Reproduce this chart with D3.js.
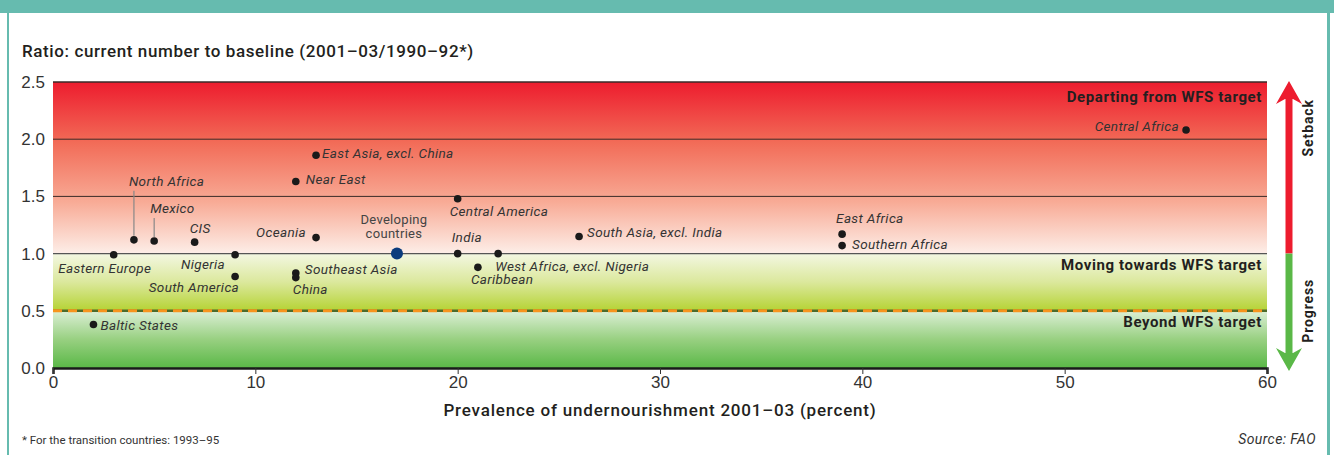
<!DOCTYPE html>
<html>
<head>
<meta charset="utf-8">
<script src="https://cdn.jsdelivr.net/npm/d3@7"></script>
<style>
  body { margin: 0; background: #fff; }
  svg { display: block; font-family: Roboto, "Noto Sans", sans-serif; }
</style>
</head>
<body>
<div id="chart"></div>
<script>
// Regions, prevalence (x) and ratio (y)
const regions = ['Eastern Europe', 'North Africa', 'Mexico', 'CIS', 'Nigeria', 'South America',
  'Oceania', 'Southeast Asia', 'China', 'Near East', 'East Asia, excl. China', 'Central America',
  'India', 'Caribbean', 'West Africa, excl. Nigeria', 'South Asia, excl. India', 'East Africa',
  'Southern Africa', 'Central Africa', 'Baltic States'];
const prevalence = [3, 4, 5, 7, 9, 9, 13, 12, 12, 12, 13, 20, 20, 21, 22, 26, 39, 39, 56, 2];
const ratio = [0.99, 1.12, 1.11, 1.10, 0.99, 0.80, 1.14, 0.83, 0.79, 1.63, 1.86, 1.48,
  1.0, 0.88, 1.0, 1.15, 1.17, 1.07, 2.08, 0.38];

const developing = { name: ['Developing', 'countries'], x: 17, y: 1.0 };

const xTicks = [0, 10, 20, 30, 40, 50, 60];
const yTicks = [0, 0.5, 1.0, 1.5, 2.0, 2.5];

const zones = ['Departing from WFS target', 'Moving towards WFS target', 'Beyond WFS target'];

// label placement: [dx, dy, anchor, leader]
const labelPos = {
  'Eastern Europe': [-9, 18, 'middle'],
  'North Africa': [-5, -54, 'start', true],
  'Mexico': [-4, -28, 'start', true],
  'CIS': [-5, -9, 'start'],
  'Nigeria': [-10, 14, 'end'],
  'South America': [4, 16, 'end'],
  'Oceania': [-10, -1, 'end'],
  'Southeast Asia': [9, 1, 'start'],
  'China': [-3, 16, 'start'],
  'Near East': [10, 2, 'start'],
  'East Asia, excl. China': [6, 3, 'start'],
  'Central America': [-8, 17, 'start'],
  'India': [-6, -12, 'start'],
  'Caribbean': [-7, 17, 'start'],
  'West Africa, excl. Nigeria': [-3, 17, 'start'],
  'South Asia, excl. India': [8, 1, 'start'],
  'East Africa': [-6, -11, 'start'],
  'Southern Africa': [10, 3, 'start'],
  'Central Africa': [-7, 1, 'end'],
  'Baltic States': [7, 5, 'start']
};

const W = 1334, H = 455;
const margin = { top: 82, right: 67, bottom: 87, left: 53 };
const width = W - margin.left - margin.right;
const height = H - margin.top - margin.bottom;

const svg = d3.select('#chart').append('svg')
  .attr('width', W).attr('height', H);

// frame
svg.append('rect').attr('x', 0).attr('y', 0).attr('width', W).attr('height', 13).attr('fill', '#66bbaf');
svg.append('rect').attr('x', 7).attr('y', 0).attr('width', 2).attr('height', H).attr('fill', '#66bbaf');
svg.append('rect').attr('x', 1327).attr('y', 0).attr('width', 3).attr('height', H).attr('fill', '#66bbaf');

const x = d3.scaleLinear().domain([0, 60]).range([0, width]);
const y = d3.scaleLinear().domain([0, 2.5]).range([height, 0]);

const defs = svg.append('defs');
function grad(id, stops) {
  const g = defs.append('linearGradient').attr('id', id)
    .attr('x1', 0).attr('y1', 0).attr('x2', 0).attr('y2', 1);
  stops.forEach(s => g.append('stop').attr('offset', s[0]).attr('stop-color', s[1]));
}
grad('gRed', [[0, '#ed1c2e'], [0.35, '#f26b57'], [0.7, '#f8ab96'], [1, '#fdeee8']]);
grad('gYel', [[0, '#f3f7e2'], [0.5, '#dbe89c'], [1, '#b5d334']]);
grad('gGrn', [[0, '#dcefd6'], [0.5, '#98d081'], [1, '#5ab847']]);

const g = svg.append('g').attr('transform', `translate(${margin.left},${margin.top})`);

g.append('rect').attr('x', 0).attr('y', y(2.5)).attr('width', width)
  .attr('height', y(1) - y(2.5)).attr('fill', 'url(#gRed)');
g.append('rect').attr('x', 0).attr('y', y(1)).attr('width', width)
  .attr('height', y(0.5) - y(1)).attr('fill', 'url(#gYel)');
g.append('rect').attr('x', 0).attr('y', y(0.5)).attr('width', width)
  .attr('height', y(0) - y(0.5)).attr('fill', 'url(#gGrn)');

// grid lines
[2.5, 2.0, 1.5].forEach(v => {
  g.append('line').attr('x1', 0).attr('x2', width).attr('y1', y(v)).attr('y2', y(v))
    .attr('stroke', '#3a2a28').attr('stroke-width', v === 2.5 ? 1.5 : 1);
});
g.append('line').attr('x1', 0).attr('x2', width).attr('y1', y(1)).attr('y2', y(1))
  .attr('stroke', '#555').attr('stroke-width', 1.3);
g.append('line').attr('x1', 0).attr('x2', width).attr('y1', y(0.5)).attr('y2', y(0.5))
  .attr('stroke', '#4d6b2a').attr('stroke-width', 2.5);
g.append('line').attr('x1', 0).attr('x2', width).attr('y1', y(0.5)).attr('y2', y(0.5))
  .attr('stroke', '#f7941d').attr('stroke-width', 3).attr('stroke-dasharray', '9,6');

// axes
const xAxis = g.append('g').attr('transform', `translate(0,${height})`)
  .call(d3.axisBottom(x).tickValues(xTicks).tickSize(6).tickPadding(2).tickFormat(d3.format('d')));
xAxis.select('.domain').attr('stroke', '#1a1a1a').attr('stroke-width', 2.5);
xAxis.selectAll('.tick line').attr('stroke', '#333');
xAxis.selectAll('text').attr('fill', '#333').style('font-size', '17px').style('font-weight', 300);

const yAxis = g.append('g')
  .call(d3.axisLeft(y).tickValues(yTicks).tickSize(0).tickPadding(8).tickFormat(d3.format('.1f')));
yAxis.select('.domain').remove();
yAxis.selectAll('text').attr('fill', '#333').style('font-size', '17px').style('font-weight', 300);

// zone labels
const zoneY = [2.37, 0.9, 0.4];
zones.forEach((z, i) => {
  g.append('text').attr('x', width - 5).attr('y', y(zoneY[i]) + 5)
    .attr('text-anchor', 'end').attr('fill', '#231f20')
    .style('font-size', '15px').style('font-weight', 700).style('letter-spacing', '0.6px').text(z);
});

// leader lines
regions.forEach((r, i) => {
  const p = labelPos[r];
  if (p[3]) {
    g.append('line').attr('x1', x(prevalence[i])).attr('x2', x(prevalence[i]))
      .attr('y1', y(ratio[i]) - 4).attr('y2', y(ratio[i]) + p[1] + 5)
      .attr('stroke', '#888').attr('stroke-width', 1.2);
  }
});

// points
g.selectAll('circle.pt').data(regions).enter().append('circle')
  .attr('class', 'pt')
  .attr('cx', (d, i) => x(prevalence[i]))
  .attr('cy', (d, i) => y(ratio[i]))
  .attr('r', 3.8).attr('fill', '#1a1a1a');

g.selectAll('text.lbl').data(regions).enter().append('text')
  .attr('class', 'lbl')
  .attr('x', (d, i) => x(prevalence[i]) + labelPos[d][0])
  .attr('y', (d, i) => y(ratio[i]) + labelPos[d][1])
  .attr('text-anchor', d => labelPos[d][2])
  .attr('fill', '#333').style('font-size', '13.5px').style('font-style', 'italic')
  .style('letter-spacing', '0.35px')
  .text(d => d);

g.append('circle').attr('cx', x(developing.x)).attr('cy', y(developing.y))
  .attr('r', 6).attr('fill', '#0b3c7d');
developing.name.forEach((t, k) => {
  g.append('text').attr('x', x(developing.x) - 3).attr('y', y(developing.y) - 30 + k * 14)
    .attr('text-anchor', 'middle').attr('fill', '#444').style('font-size', '13px')
    .style('letter-spacing', '0.3px').text(t);
});

// arrow
const ax = width + 22;
g.append('line').attr('x1', ax).attr('x2', ax).attr('y1', y(2.5) + 12).attr('y2', y(1))
  .attr('stroke', '#ed1c2e').attr('stroke-width', 7);
g.append('path').attr('d', `M${ax},${y(2.5) - 1} L${ax + 13},${y(2.5) + 22} L${ax + 4},${y(2.5) + 17} L${ax - 4},${y(2.5) + 17} L${ax - 13},${y(2.5) + 22}Z`)
  .attr('fill', '#ed1c2e');
g.append('line').attr('x1', ax).attr('x2', ax).attr('y1', y(1)).attr('y2', y(0) - 10)
  .attr('stroke', '#5ab847').attr('stroke-width', 7);
g.append('path').attr('d', `M${ax},${y(0) + 3} L${ax + 13},${y(0) - 20} L${ax + 4},${y(0) - 15} L${ax - 4},${y(0) - 15} L${ax - 13},${y(0) - 20}Z`)
  .attr('fill', '#5ab847');
g.append('text').attr('transform', `translate(${ax + 24},${y(2.1)}) rotate(-90)`)
  .attr('text-anchor', 'middle').attr('fill', '#231f20')
  .style('font-size', '14px').style('font-weight', 700).style('letter-spacing', '0.9px').text('Setback');
g.append('text').attr('transform', `translate(${ax + 24},${y(0.5)}) rotate(-90)`)
  .attr('text-anchor', 'middle').attr('fill', '#231f20')
  .style('font-size', '14px').style('font-weight', 700).style('letter-spacing', '0.9px').text('Progress');

// titles
svg.append('text').attr('x', 22).attr('y', 57).attr('fill', '#231f20')
  .style('font-size', '17px').style('font-weight', 500).style('letter-spacing', '0.6px')
  .text('Ratio: current number to baseline (2001–03/1990–92*)');
svg.append('text').attr('x', margin.left + width / 2).attr('y', 416)
  .attr('text-anchor', 'middle').attr('fill', '#231f20')
  .style('font-size', '17px').style('font-weight', 500).style('letter-spacing', '0.8px')
  .text('Prevalence of undernourishment 2001–03 (percent)');
svg.append('text').attr('x', 22).attr('y', 444).attr('fill', '#333')
  .style('font-size', '11.5px').text('* For the transition countries: 1993–95');
svg.append('text').attr('x', 1316).attr('y', 444).attr('text-anchor', 'end').attr('fill', '#333')
  .style('font-size', '14px').style('font-style', 'italic').style('letter-spacing', '0.4px').text('Source: FAO');
</script>
</body>
</html>
